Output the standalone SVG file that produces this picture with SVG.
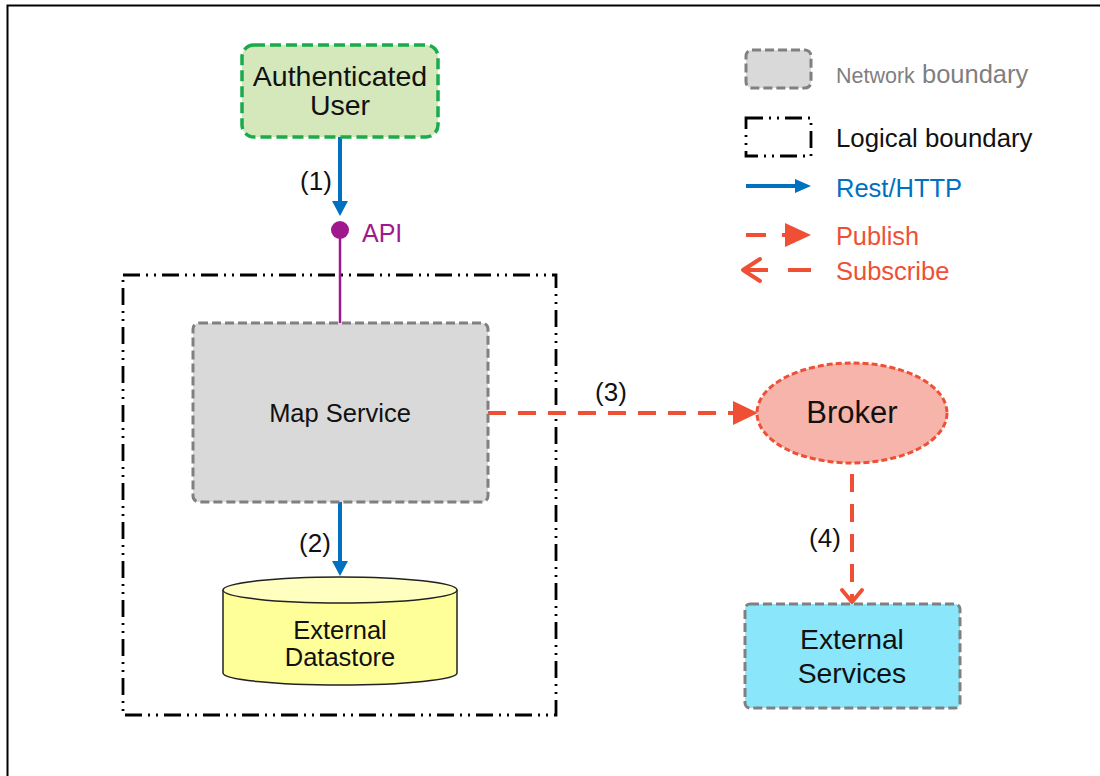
<svg xmlns="http://www.w3.org/2000/svg" width="1100" height="776" viewBox="0 0 1100 776">
<style>
text{font-family:"Liberation Sans",Arial,sans-serif;fill:#111}
.net{fill:#d9d9d9;stroke:#808080;stroke-width:3;stroke-dasharray:9 4}
.logic{fill:none;stroke:#000;stroke-width:2.8;stroke-dasharray:17 6 2 6 2 6}
.rest{stroke:#0070c0;stroke-width:4;fill:none}
.pub{stroke:#ef5035;stroke-width:4;fill:none;stroke-dasharray:18 12}
.num{font-size:26px}
</style>
<rect width="1100" height="776" fill="#fff"/>
<path d="M7.5 776 V5.5 H1100" fill="none" stroke="#000" stroke-width="2"/>

<g id="logical-boundary">
<rect x="123" y="275" width="433" height="440" class="logic"/>
</g>

<g id="connectors">
<line x1="340" y1="137" x2="340" y2="203" class="rest"/>
<polygon points="332,201 348,201 340,216" fill="#0070c0"/>
<text x="316" y="190" class="num" text-anchor="middle">(1)</text>
<line x1="340" y1="230" x2="340" y2="323" stroke="#a0198c" stroke-width="2.5"/>
<line x1="340" y1="502" x2="340" y2="563" class="rest"/>
<polygon points="332,561 348,561 340,576" fill="#0070c0"/>
<text x="315" y="552" class="num" text-anchor="middle">(2)</text>
<line x1="488" y1="413" x2="736" y2="413" class="pub"/>
<polygon points="733,401 733,425 758,413" fill="#ef5035"/>
<text x="611" y="401" class="num" text-anchor="middle">(3)</text>
<line x1="852" y1="474" x2="852" y2="600" class="pub"/>
<polyline points="842,590 852,602 862,590" fill="none" stroke="#ef5035" stroke-width="4" stroke-linecap="round" stroke-linejoin="round"/>
<text x="825" y="547" class="num" text-anchor="middle">(4)</text>
</g>

<g id="authenticated-user">
<rect x="242" y="45" width="196" height="92" rx="12" fill="#d5e8bc" stroke="#1aab4a" stroke-width="3.5" stroke-dasharray="11 5"/>
<text x="340" y="86" font-size="28.5" text-anchor="middle">Authenticated</text>
<text x="340" y="115" font-size="28.5" text-anchor="middle">User</text>
</g>

<g id="api">
<circle cx="340" cy="230" r="9" fill="#a0198c"/>
<text x="362" y="242" font-size="25" style="fill:#a0198c">API</text>
</g>

<g id="map-service">
<rect x="193" y="323" width="295" height="179" rx="6" class="net"/>
<text x="340" y="422" font-size="25.5" text-anchor="middle">Map Service</text>
</g>

<g id="external-datastore">
<path d="M223 590 V673 A117 12 0 0 0 457 673 V590" fill="#ffff99" stroke="#222" stroke-width="1.5"/>
<ellipse cx="340" cy="590" rx="117" ry="13" fill="#ffffc0" stroke="#222" stroke-width="1.5"/>
<text x="340" y="639" font-size="25.5" text-anchor="middle">External</text>
<text x="340" y="666" font-size="25.5" text-anchor="middle">Datastore</text>
</g>

<g id="broker">
<ellipse cx="852" cy="413" rx="95" ry="50" fill="#f7b4aa" stroke="#ef5035" stroke-width="3" stroke-dasharray="6 3"/>
<text x="852" y="423" font-size="31" text-anchor="middle">Broker</text>
</g>

<g id="external-services">
<rect x="745" y="604" width="215" height="104" rx="5" fill="#8ae6fb" stroke="#808080" stroke-width="3" stroke-dasharray="9 4"/>
<text x="852" y="649" font-size="28.3" text-anchor="middle">External</text>
<text x="852" y="683" font-size="28.3" text-anchor="middle">Services</text>
</g>

<g id="legend">
<rect x="746" y="50" width="65" height="38" rx="6" class="net"/>
<text x="836" y="83" style="fill:#7f7f7f"><tspan font-size="21.5">Network</tspan><tspan font-size="25.5"> boundary</tspan></text>
<rect x="746" y="118" width="65" height="38" class="logic"/>
<text x="836" y="147" font-size="25.8">Logical boundary</text>
<line x1="746" y1="186" x2="797" y2="186" class="rest"/>
<polygon points="795,179 795,193 811,186" fill="#0070c0"/>
<text x="836" y="197" font-size="25.5" style="fill:#0070c0">Rest/HTTP</text>
<line x1="746" y1="235" x2="766" y2="235" stroke="#ef5035" stroke-width="4"/>
<line x1="782" y1="235" x2="795" y2="235" stroke="#ef5035" stroke-width="4"/>
<polygon points="785,223 785,247 811,235" fill="#ef5035"/>
<text x="836" y="245" font-size="25.3" style="fill:#ef5035">Publish</text>
<polyline points="760,259 743,270 760,281" fill="none" stroke="#ef5035" stroke-width="4" stroke-linecap="round" stroke-linejoin="round"/>
<line x1="744" y1="270" x2="768" y2="270" stroke="#ef5035" stroke-width="4"/>
<line x1="788" y1="270" x2="811" y2="270" stroke="#ef5035" stroke-width="4"/>
<text x="836" y="280" font-size="25.5" style="fill:#ef5035">Subscribe</text>
</g>
</svg>
